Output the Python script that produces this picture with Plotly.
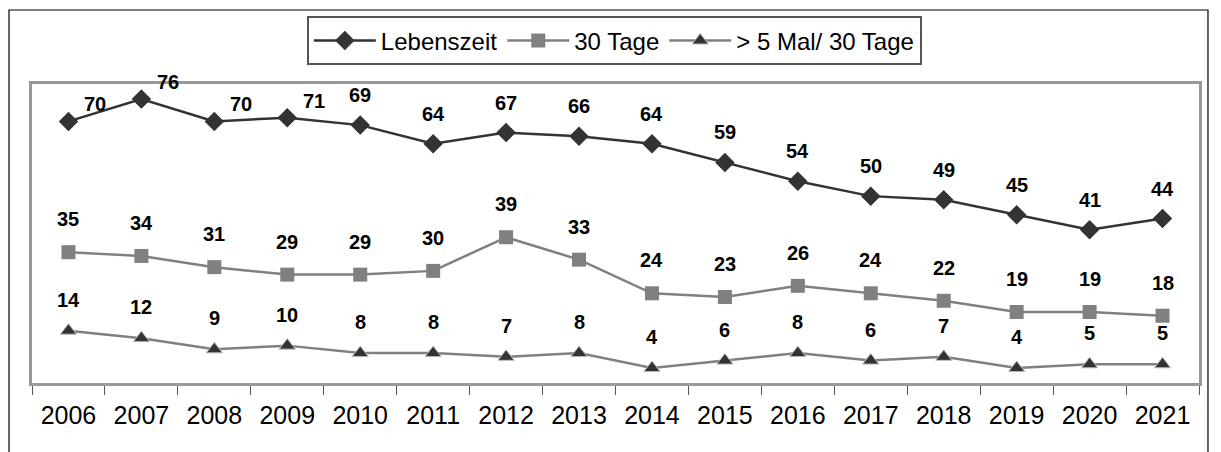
import plotly.graph_objects as go

years = [str(y) for y in range(2006, 2022)]
lebenszeit = [70, 76, 70, 71, 69, 64, 67, 66, 64, 59, 54, 50, 49, 45, 41, 44]
tage30 = [35, 34, 31, 29, 29, 30, 39, 33, 24, 23, 26, 24, 22, 19, 19, 18]
mal5 = [14, 12, 9, 10, 8, 8, 7, 8, 4, 6, 8, 6, 7, 4, 5, 5]

names = ["Lebenszeit", "30 Tage", "> 5 Mal/ 30 Tage"]

fig = go.Figure()
fig.add_trace(go.Scatter(x=years, y=lebenszeit, name=names[0], mode="lines+markers",
                         line=dict(color="#333333", width=2.5),
                         marker=dict(symbol="diamond", size=15, color="#333333")))
fig.add_trace(go.Scatter(x=years, y=tage30, name=names[1], mode="lines+markers",
                         line=dict(color="#808080", width=2.5),
                         marker=dict(symbol="square", size=14, color="#808080")))
fig.add_trace(go.Scatter(x=years, y=mal5, name=names[2], mode="lines+markers",
                         line=dict(color="#808080", width=2.5),
                         marker=dict(symbol="triangle-up", size=14, color="#333333",
                                     line=dict(color="#bbbbbb", width=1))))

lab_font = dict(family="Liberation Sans, Arial, sans-serif", size=20, color="black")
for i, v in enumerate(lebenszeit):
    if i < 4:
        fig.add_annotation(x=i, y=v, xref="x", yref="y", text=f"<b>{v}</b>", showarrow=False,
                           xshift=27, yshift=17, font=lab_font)
    else:
        fig.add_annotation(x=i, y=v, xref="x", yref="y", text=f"<b>{v}</b>", showarrow=False,
                           yshift=30, font=lab_font)
for i, v in enumerate(tage30):
    fig.add_annotation(x=i, y=v, xref="x", yref="y", text=f"<b>{v}</b>", showarrow=False,
                       yshift=33, font=lab_font)
for i, v in enumerate(mal5):
    fig.add_annotation(x=i, y=v, xref="x", yref="y", text=f"<b>{v}</b>", showarrow=False,
                       yshift=31, font=lab_font)

fig.update_layout(
    width=1221, height=452,
    margin=dict(l=32, r=22, t=84, b=69),
    paper_bgcolor="white", plot_bgcolor="white",
    font=dict(family="Liberation Sans, Arial, sans-serif", size=20, color="black"),
    showlegend=True,
    legend=dict(orientation="h", x=0.499, xanchor="center", y=1.226, yanchor="top",
                bordercolor="#555555", borderwidth=2, bgcolor="white",
                font=dict(size=24), itemwidth=62, tracegroupgap=0),
    xaxis=dict(type="category", range=[-0.5, 15.5], showgrid=False,
               showline=True, linecolor="#999999", linewidth=3, mirror=True,
               ticks="outside", tickson="boundaries", ticklen=9, tickcolor="#555555",
               tickfont=dict(size=25), ticklabelstandoff=8),
    yaxis=dict(range=[0, 80], showgrid=False, showticklabels=False, zeroline=False,
               showline=True, linecolor="#999999", linewidth=3, mirror=True, ticks=""),
    shapes=[dict(type="rect", xref="paper", yref="paper", x0=-0.0197, x1=1.0077,
                 y0=-0.3, y1=1.2475, line=dict(color="black", width=1.2), layer="below")],
)

fig.write_html("out.html", config={"displayModeBar": False},
               post_script="document.body.style.margin='0';document.body.style.overflow='hidden';")
